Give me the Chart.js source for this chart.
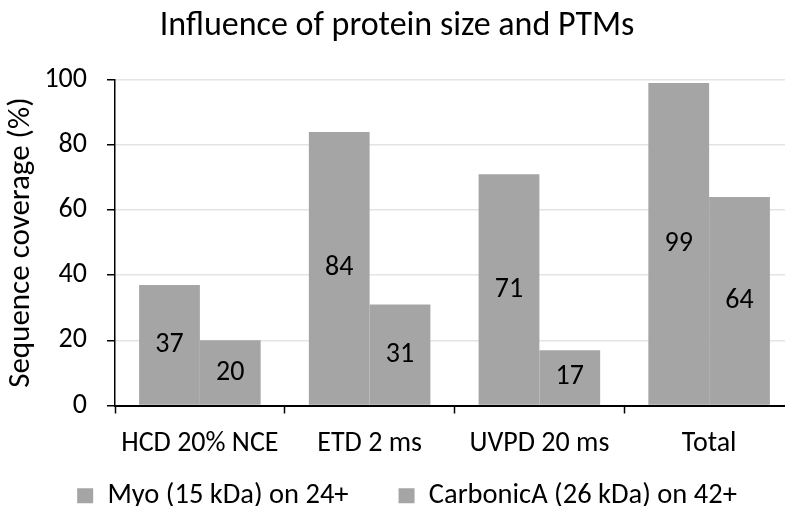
<!DOCTYPE html>
<html>
<head>
<meta charset="utf-8">
<script src="https://cdn.jsdelivr.net/npm/chart.js@4/dist/chart.umd.min.js"></script>
<style>
  html, body { margin: 0; padding: 0; background: #fff; overflow: hidden; }
  #wrap { width: 785px; height: 506px; overflow: hidden; position: relative; }
  #c { display: block; }
</style>
</head>
<body>
<div id="wrap"><canvas id="c" width="800" height="550"></canvas></div>
<script>
// Sequence coverage per fragmentation method
const categories = ['HCD 20% NCE', 'ETD 2 ms', 'UVPD 20 ms', 'Total'];
const myoCoverage = [37, 84, 71, 99];
const carbonicCoverage = [20, 31, 17, 64];
const seriesNames = ['Myo (15 kDa) on 24+', 'CarbonicA (26 kDa) on 42+'];
const yTicks = [0, 20, 40, 60, 80, 100];

const FONT = 'Carlito, Calibri, Lato, sans-serif';
const BAR_GRAY = '#a5a5a5';
const LEGEND_PAD = 50;
const LEGEND_FONT = 28.5;

// Writes each bar's value in the middle of the bar
const barValueLabels = {
  id: 'barValueLabels',
  afterDatasetsDraw(chart) {
    const ctx = chart.ctx;
    ctx.save();
    ctx.font = '28px ' + FONT;
    ctx.fillStyle = '#000';
    ctx.textAlign = 'center';
    ctx.textBaseline = 'middle';
    chart.data.datasets.forEach((ds, i) => {
      chart.getDatasetMeta(i).data.forEach((bar, j) => {
        ctx.fillText(String(ds.data[j]), bar.x, (bar.y + bar.base) / 2);
      });
    });
    ctx.restore();
  }
};

// Pulls the legend row up under the category labels and nudges it right
const legendPlacement = {
  id: 'legendPlacement',
  afterLayout(chart) {
    const lg = chart.legend;
    const h = lg.bottom - lg.top;
    lg.top = chart.scales.x.top + 26;
    lg.bottom = lg.top + h;
    lg.left += 10;
    lg.right += 10;
  }
};

new Chart(document.getElementById('c'), {
  type: 'bar',
  data: {
    labels: categories,
    datasets: [
      { label: seriesNames[0], data: myoCoverage, backgroundColor: BAR_GRAY, borderWidth: 0 },
      { label: seriesNames[1], data: carbonicCoverage, backgroundColor: BAR_GRAY, borderWidth: 0 }
    ]
  },
  options: {
    responsive: false,
    animation: false,
    datasets: { bar: { categoryPercentage: 0.716, barPercentage: 1.0 } },
    layout: { padding: { left: 0, right: 6, top: 0, bottom: 0 } },
    plugins: {
      title: {
        display: true,
        text: 'Influence of protein size and PTMs',
        color: '#000',
        font: { family: FONT, size: 34, weight: 'normal' },
        padding: { top: 6, bottom: 33 }
      },
      legend: {
        position: 'bottom',
        labels: {
          boxWidth: 16,
          boxHeight: 15,
          padding: LEGEND_PAD,
          color: '#000',
          font: { family: FONT, size: LEGEND_FONT }
        }
      },
      tooltip: { enabled: false }
    },
    scales: {
      x: {
        offset: true,
        grid: { offset: true, drawOnChartArea: false, tickLength: 8, tickColor: '#000', tickWidth: 1.5 },
        border: { color: '#000', width: 2 },
        ticks: { color: '#000', font: { family: FONT, size: 28 }, padding: 14, maxRotation: 0, autoSkip: false },
        afterFit(scale) { scale.height = 56; }
      },
      y: {
        min: 0,
        max: 100,
        afterBuildTicks(scale) { scale.ticks = yTicks.map(v => ({ value: v })); },
        ticks: { color: '#000', font: { family: FONT, size: 28 }, padding: 20 },
        grid: { color: '#e4e4e4', lineWidth: 1.5, tickColor: '#000', tickLength: 8, tickWidth: 1.5 },
        border: { color: '#000', width: 1.5 },
        title: {
          display: true,
          text: 'Sequence coverage (%)',
          color: '#000',
          font: { family: FONT, size: 31 },
          padding: { top: 3, bottom: 0 }
        },
        afterFit(scale) { scale.width = 115; }
      }
    }
  },
  plugins: [barValueLabels, legendPlacement]
});
</script>
</body>
</html>
